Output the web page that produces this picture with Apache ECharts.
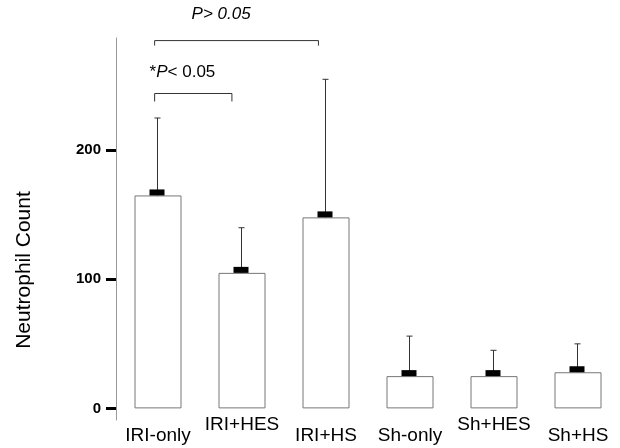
<!DOCTYPE html>
<html>
<head>
<meta charset="utf-8">
<script src="https://cdn.jsdelivr.net/npm/echarts@6/dist/echarts.min.js"></script>
<style>
  html, body { margin: 0; padding: 0; background: #fff; }
  #chart { width: 620px; height: 448px; }
</style>
</head>
<body>
<div id="chart"></div>
<script>
const categories = ['IRI-only', 'IRI+HES', 'IRI+HS', 'Sh-only', 'Sh+HES', 'Sh+HS'];
const means = [165, 105, 148, 25, 25, 28];
const sds = [60, 35, 107, 31, 20, 22];
const yTicks = [0, 100, 200];
// brackets: [from category, to category, y level]
const brackets = [
  [-0.04, 0.88, 244],
  [-0.04, 1.91, 285],
];
// significance labels: [x (category units), y, rich text]
const sigLabels = [
  [-0.1, 254, '{n|*}{i|P}{n|< 0.05}'],
  [0.4, 299, '{i|P> 0.05}'],
];

const FONT = 'Liberation Sans, Arial, sans-serif';
const chart = echarts.init(document.getElementById('chart'), null, { renderer: 'canvas' });

// category axis rounds fractional values, so go through the band width
const xAt = (api, v, y) => {
  const p = api.coord([0, y]);
  return [p[0] + v * api.size([1, 0])[0], p[1]];
};

const option = {
  animation: false,
  backgroundColor: '#fff',
  grid: { left: 116, width: 506, top: 38, bottom: 28 },
  xAxis: {
    type: 'category',
    data: categories,
    axisLine: { show: false, onZero: false },
    axisTick: { show: false },
    axisLabel: {
      interval: 0,
      margin: -5,
      verticalAlign: 'top',
      formatter: v => (v.includes('HES') ? `{hi|${v}}` : `{lo|${v}}`),
      rich: {
        hi: { fontFamily: FONT, fontSize: 19, color: '#000' },
        lo: { fontFamily: FONT, fontSize: 19, color: '#000', padding: [11, 0, 0, 0] },
      },
    },
  },
  yAxis: {
    type: 'value',
    min: -9,
    max: 287,
    splitLine: { show: false },
    axisLine: { show: true, lineStyle: { color: '#999', width: 1 } },
    axisTick: { show: true, length: 10, customValues: yTicks, lineStyle: { color: '#000', width: 3 } },
    axisLabel: {
      customValues: yTicks,
      margin: 15,
      fontFamily: FONT,
      fontSize: 15,
      fontWeight: 'bold',
      color: '#000',
    },
  },
  graphic: [
    {
      type: 'text',
      x: 24,
      y: 270,
      rotation: Math.PI / 2,
      style: {
        text: 'Neutrophil Count',
        fontFamily: FONT,
        fontSize: 21,
        fill: '#000',
        align: 'center',
        verticalAlign: 'middle',
      },
    },
  ],
  series: [
    {
      type: 'bar',
      data: means,
      barWidth: 47,
      itemStyle: { color: '#fff', borderColor: '#777', borderWidth: 1 },
      z: 1,
    },
    {
      type: 'custom',
      data: means.map((m, i) => [i, m, m + sds[i]]),
      z: 3,
      renderItem: (params, api) => {
        const i = api.value(0);
        const base = api.coord([i, api.value(1)]);
        const top = api.coord([i, api.value(2)]);
        const x = Math.round(base[0]) - 0.5;
        return {
          type: 'group',
          children: [
            {
              type: 'line',
              shape: { x1: x, y1: base[1], x2: x, y2: top[1] },
              style: { stroke: '#333', lineWidth: 1 },
            },
            {
              type: 'line',
              shape: { x1: x - 3, y1: top[1], x2: x + 3, y2: top[1] },
              style: { stroke: '#333', lineWidth: 1 },
            },
            {
              type: 'rect',
              shape: { x: x - 8, y: base[1] - 6, width: 15, height: 6 },
              style: { fill: '#000' },
            },
          ],
        };
      },
    },
    {
      type: 'custom',
      data: brackets,
      z: 3,
      renderItem: (params, api) => {
        const a = xAt(api, api.value(0), api.value(2));
        const b = xAt(api, api.value(1), api.value(2));
        const leg = params.dataIndex === 0 ? 8 : 5;
        return {
          type: 'polyline',
          shape: { points: [[a[0], a[1] + leg], [a[0], a[1]], [b[0], b[1]], [b[0], b[1] + leg]] },
          style: { stroke: '#333', lineWidth: 1, fill: null },
        };
      },
    },
    {
      type: 'custom',
      data: sigLabels,
      z: 3,
      renderItem: (params, api) => {
        const p = xAt(api, api.value(0), api.value(1));
        return {
          type: 'text',
          x: p[0],
          y: p[1],
          style: {
            text: sigLabels[params.dataIndex][2],
            align: 'left',
            verticalAlign: 'bottom',
            rich: {
              n: { fontFamily: FONT, fontSize: 17, fill: '#000' },
              i: { fontFamily: FONT, fontSize: 17, fontStyle: 'italic', fill: '#000' },
            },
          },
        };
      },
    },
  ],
};

chart.setOption(option);
window.addEventListener('resize', chart.resize);
</script>
</body>
</html>
